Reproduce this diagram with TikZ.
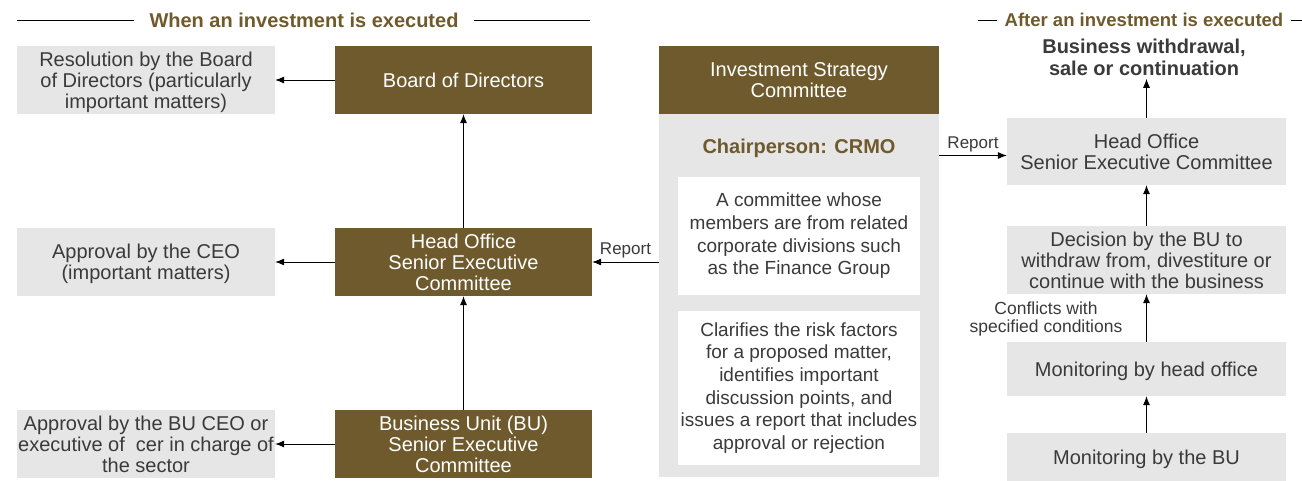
\documentclass[tikz,border=0pt]{standalone}
\usepackage{fontspec}
\setmainfont{Liberation Sans}
\usetikzlibrary{arrows.meta, positioning}

\definecolor{brownbox}{HTML}{6E5A2C}
\definecolor{graybox}{HTML}{E6E6E6}
\definecolor{darktext}{HTML}{3A3A3A}

\tikzset{
  bodyfont/.style={font=\fontsize{20}{21}\selectfont},
  graynode/.style={bodyfont, fill=graybox, text=darktext, align=center,
    inner sep=0pt, text depth=0pt, minimum width=258pt, minimum height=68pt},
  brownnode/.style={bodyfont, fill=brownbox, text=white, align=center,
    inner sep=0pt, text depth=0pt, minimum width=257pt, minimum height=68pt},
  whitenode/.style={font=\fontsize{19}{22.7}\selectfont, fill=white, text=darktext,
    align=center, inner sep=0pt, minimum width=242pt},
  rightnode/.style={graynode, minimum width=279pt},
  titlenode/.style={font=\fontsize{20}{22}\selectfont\bfseries, text=brownbox, inner ysep=0pt},
  arr/.style={-{Latex[length=9pt,width=7pt]}, line width=0.8pt},
}

\begin{document}
\begin{tikzpicture}[x=1pt, y=-1pt]
  \useasboundingbox (0,0) rectangle (1302,481);

  % Titles
  \node[titlenode, inner xsep=15pt] (ttlwhen) at (304,20) {When an investment is executed};
  \coordinate (whenl) at (17,20);
  \coordinate (whenr) at (590,20);
  \draw[line width=0.8pt] (whenl) -- (ttlwhen.west);
  \draw[line width=0.8pt] (ttlwhen.east) -- (whenr);
  \node[titlenode, font=\fontsize{18.5}{20}\selectfont\bfseries, inner xsep=7pt] (ttlafter) at (1144,20) {After an investment is executed};
  \coordinate (afterl) at (978,20);
  \coordinate (afterr) at (1302,20);
  \draw[line width=0.8pt] (afterl) -- (ttlafter.west);
  \draw[line width=0.8pt] (ttlafter.east) -- (afterr);

  % Left column
  \node[graynode] (resol) at (146,80) {Resolution by the Board\\of Directors (particularly\\important matters)};
  \node[brownnode] (bod) at (463.5,80) {Board of Directors};
  \node[graynode] (ceo) at (146,262) {Approval by the CEO\\(important matters)};
  \node[brownnode] (hosec) at (463.5,262) {Head Office\\Senior Executive\\Committee};
  \node[graynode] (buceo) at (146,444) {Approval by the BU CEO or\\executive of\ \ cer in charge of\\the sector};
  \node[brownnode] (busec) at (463.5,444) {Business Unit (BU)\\Senior Executive\\Committee};

  \draw[arr] (bod) -- (resol);
  \draw[arr] (hosec) -- (ceo);
  \draw[arr] (busec) -- (buceo);
  \draw[arr] (hosec) -- (bod);
  \draw[arr] (busec) -- (hosec);

  % Investment Strategy Committee
  \node[brownnode, minimum width=280pt] (isc) at (799,80) {Investment Strategy\\Committee};
  \node[fill=graybox, minimum width=280pt, minimum height=363pt, inner sep=0pt,
    anchor=north] (panel) at (isc.south) {};
  \node[font=\fontsize{20}{22}\selectfont\bfseries, text=brownbox] (chair) at (799,148) {Chairperson: CRMO};
  \node[whitenode, minimum height=118pt] (members) at (799,236) {A committee whose\\members are from related\\corporate divisions such\\as the Finance Group};
  \node[whitenode, minimum height=154pt] (role) at (799,388) {Clarifies the risk factors\\for a proposed matter,\\identifies important\\discussion points, and\\issues a report that includes\\approval or rejection};

  \draw[arr] (panel.west |- hosec) -- (hosec.east)
    node[midway, above, font=\fontsize{17}{19}\selectfont, text=darktext] {Report};

  % Right column
  \node[font=\fontsize{20}{22}\selectfont\bfseries, text=darktext, align=center] (outcome) at (1144,57) {Business withdrawal,\\sale or continuation};
  \node[rightnode, minimum height=67pt] (rhosec) at (1146.5,151.5) {Head Office\\Senior Executive Committee};
  \node[rightnode] (decision) at (1146.5,260) {Decision by the BU to\\withdraw from, divestiture or\\continue with the business};
  \node[rightnode, minimum height=54pt] (monho) at (1146.5,369) {Monitoring by head office};
  \node[rightnode, minimum height=48pt] (monbu) at (1146.5,457) {Monitoring by the BU};
  \node[font=\fontsize{17.5}{18}\selectfont, text=darktext, align=center] (conf) at (1046,319) {Conflicts with\\specified conditions};

  \draw[arr] ([yshift=-4pt]panel.east |- rhosec) -- ([yshift=-4pt]rhosec.west)
    node[midway, above, font=\fontsize{17}{19}\selectfont, text=darktext] {Report};
  \draw[arr] (rhosec.north) -- (rhosec.north |- outcome.south);
  \draw[arr] (decision) -- (rhosec);
  \draw[arr] (monho) -- (decision);
  \draw[arr] (monbu) -- (monho);
\end{tikzpicture}
\end{document}
